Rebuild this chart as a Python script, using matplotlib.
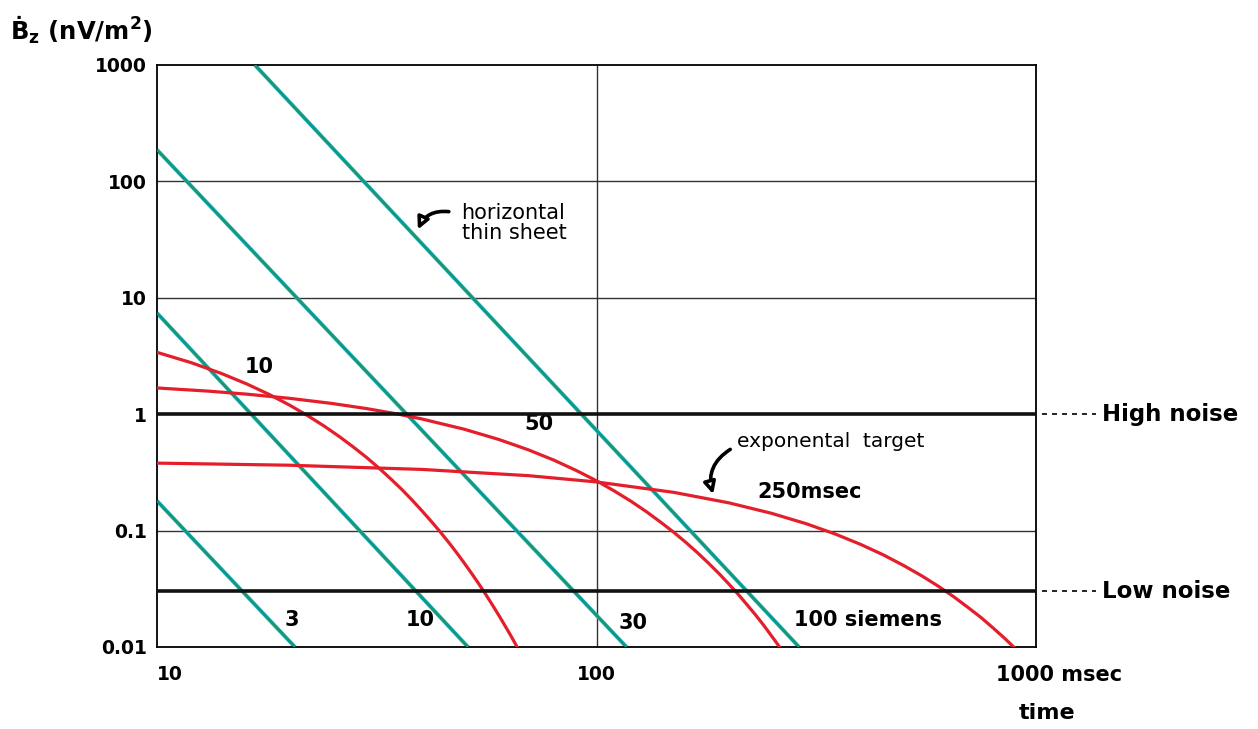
import numpy as np
import matplotlib.pyplot as plt

plt.rcParams['font.family'] = 'DejaVu Sans'
plt.rcParams['mathtext.fontset'] = 'dejavusans'

# ---- data ----
# thin sheet responses (straight lines in log-log): start / end points
sheet_labels = ['3', '10', '30', '100 siemens']
sheet_t0 = [10, 10, 10, 16.7]
sheet_b0 = [0.18, 7.4, 187, 1000]
sheet_t1 = [20.6, 51, 117, 289]
sheet_b1 = [0.01, 0.01, 0.01, 0.01]

# exponential targets, points
tau_labels = ['10', '50', '250msec']
exp10_t = [10, 12, 14, 16, 18, 20, 22, 24, 26, 28, 30, 32, 34, 36, 38, 40,
           42, 44, 46, 48, 50, 52, 54, 56, 58, 60, 62, 64, 66, 68]
exp10_b = [3.40, 2.761, 2.241, 1.820, 1.478, 1.200, 0.974, 0.791, 0.642,
           0.521, 0.424, 0.344, 0.279, 0.227, 0.184, 0.149, 0.121, 0.0985,
           0.0800, 0.0650, 0.0527, 0.0428, 0.0348, 0.0282, 0.0229, 0.0186,
           0.0151, 0.0123, 0.00996, 0.00809]
exp50_t = [10, 13, 16, 20, 25, 30, 35, 40, 50, 60, 70, 80, 90, 100, 110, 120,
           130, 140, 150, 160, 170, 180, 190, 200, 210, 220, 230, 240, 250,
           261, 270]
exp50_b = [1.680, 1.581, 1.487, 1.370, 1.237, 1.117, 1.009, 0.911, 0.743,
           0.606, 0.494, 0.403, 0.328, 0.268, 0.218, 0.178, 0.145, 0.118,
           0.0965, 0.0787, 0.0642, 0.0523, 0.0427, 0.0348, 0.0284, 0.0231,
           0.0189, 0.0154, 0.0125, 0.0100, 0.00834]
exp250_t = [10, 20, 40, 70, 100, 150, 200, 250, 300, 350, 400, 450, 500, 550,
            600, 650, 700, 750, 800, 850, 900, 920]
exp250_b = [0.380, 0.3645, 0.3355, 0.2965, 0.2618, 0.2130, 0.1732, 0.1409,
            0.1146, 0.0932, 0.0758, 0.0617, 0.0501, 0.0408, 0.0332, 0.0270,
            0.0219, 0.0179, 0.0145, 0.0118, 0.00960, 0.00884]

high_noise = 1.0
low_noise = 0.03
grid_b = [100, 10, 0.1]
grid_t = [100]

GREEN = '#13986f'
CYAN = '#27b4d8'
RED = '#e41e2b'

fig = plt.figure(figsize=(12.58, 7.29), dpi=100)
ax = fig.add_axes([157/1258, 1-647/729, 879/1258, 582/729])
ax.set_xscale('log')
ax.set_yscale('log')
ax.set_xlim(10, 1000)
ax.set_ylim(0.01, 1000)

#==== grid =====
for g in grid_b:
    ax.axhline(g, color='#333333', lw=1.0, zorder=1)
for g in grid_t:
    ax.axvline(g, color='#333333', lw=1.0, zorder=1)
ax.axhline(high_noise, color='#111111', lw=2.6, zorder=4)
ax.axhline(low_noise, color='#111111', lw=2.6, zorder=4)

#==== thin sheet lines =====
for i in range(len(sheet_labels)):
    xs = [sheet_t0[i], sheet_t1[i]]
    ys = [sheet_b0[i], sheet_b1[i]]
    ax.plot(xs, ys, color=CYAN, lw=2.8, zorder=2, solid_capstyle='butt')
    ax.plot(xs, ys, color=GREEN, lw=1.8, zorder=3, solid_capstyle='butt')

#==== exponential targets =====
for t, b in [(exp10_t, exp10_b), (exp50_t, exp50_b), (exp250_t, exp250_b)]:
    ax.plot(t, b, color=RED, lw=2.3, zorder=3)

#==== labels on curves =====
fs = 15
ax.text(17.1, 2.55, tau_labels[0], fontsize=fs, fontweight='bold',
        ha='center', va='center')
ax.text(74, 0.82, tau_labels[1], fontsize=fs, fontweight='bold',
        ha='center', va='center')
ax.text(232, 0.215, tau_labels[2], fontsize=fs, fontweight='bold',
        ha='left', va='center')
ax.text(20.3, 0.017, sheet_labels[0], fontsize=fs, fontweight='bold',
        ha='center', va='center')
ax.text(39.8, 0.017, sheet_labels[1], fontsize=fs, fontweight='bold',
        ha='center', va='center')
ax.text(121, 0.016, sheet_labels[2], fontsize=fs, fontweight='bold',
        ha='center', va='center')
ax.text(282, 0.017, sheet_labels[3], fontsize=fs, fontweight='bold',
        ha='left', va='center')

ax.text(49.3, 44, 'horizontal\nthin sheet', fontsize=15, ha='left',
        va='center', linespacing=0.95)
ax.annotate('', xy=(39, 36.7), xytext=(46.8, 54.6),
            arrowprops=dict(arrowstyle='-|>,head_length=0.7,head_width=0.35',
                            fc='white', ec='black', lw=2.6,
                            connectionstyle='arc3,rad=0.4'))
ax.text(209, 0.577, 'exponental  target', fontsize=14.5, ha='left',
        va='center')
ax.annotate('', xy=(185, 0.195), xytext=(204, 0.513),
            arrowprops=dict(arrowstyle='-|>,head_length=0.7,head_width=0.35',
                            fc='white', ec='black', lw=2.6,
                            connectionstyle='arc3,rad=0.4'))

#==== axes =====
ax.set_xticks([])
ax.set_yticks([1000, 100, 10, 1, 0.1, 0.01])
ax.set_yticklabels(['1000', '100', '10', '1', '0.1', '0.01'], fontsize=13.5,
                   fontweight='bold')
ax.tick_params(axis='y', length=0, pad=7)
ax.minorticks_off()
ax.tick_params(which='minor', length=0)
for s in ax.spines.values():
    s.set_linewidth(1.3)

trans = ax.get_xaxis_transform()
ax.text(10, -0.048, '10', fontsize=13.5, fontweight='bold', ha='left',
        va='center', transform=trans)
ax.text(100, -0.048, '100', fontsize=13.5, fontweight='bold', ha='center',
        va='center', transform=trans)
ax.text(811, -0.048, '1000 msec', fontsize=15, fontweight='bold', ha='left',
        va='center', transform=trans)
ax.text(1.0125, -0.113, 'time', fontsize=16, fontweight='bold', ha='center',
        va='center', transform=ax.transAxes)

ytrans = ax.get_yaxis_transform()
for lvl, name in [(high_noise, 'High noise'), (low_noise, 'Low noise')]:
    ax.plot([1.0068, 1.068], [lvl, lvl], color='black', lw=1.2,
            ls=(0, (3, 3)), transform=ytrans, clip_on=False)
    ax.text(1.075, lvl, name, fontsize=16.5, fontweight='bold', ha='left',
            va='center', transform=ytrans)

fig.text(10/1258, 1-30/729, r'Ḃ$_\mathbf{z}$ (nV/m$^\mathbf{2}$)',
         fontsize=17.5, fontweight='bold', ha='left', va='center')

fig.savefig('out.png', dpi=100)
